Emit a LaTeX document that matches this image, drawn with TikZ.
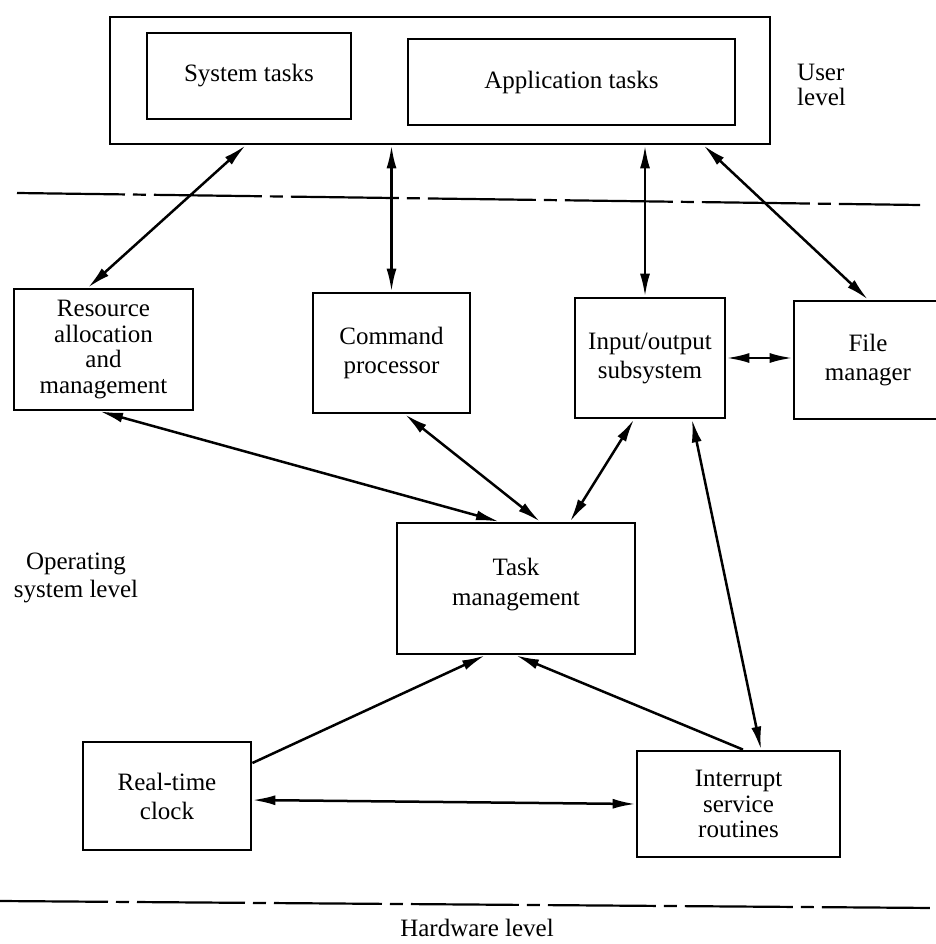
\documentclass[tikz,border=0pt]{standalone}
\usepackage{fontspec}
\setmainfont{Liberation Serif}
\usetikzlibrary{arrows.meta,calc}
\begin{document}
\begin{tikzpicture}[x=1pt,y=-1pt,
  box/.style={draw,line width=2.8pt,rectangle,inner sep=0pt,align=center,
    font=\fontsize{25}{29}\selectfont},
  tight/.style={font=\fontsize{25}{25.6}\selectfont},
  link/.style={line width=2.5pt,
    {Latex[length=23pt,width=10pt]}-{Latex[length=23pt,width=10pt]}},
  oneway/.style={line width=2.5pt,-{Latex[length=23pt,width=10pt]}},
  levelline/.style={line width=2.2pt,dash pattern=on 108pt off 8pt on 13pt off 8pt},
  caption/.style={inner sep=0pt,font=\fontsize{25}{27}\selectfont}]
\useasboundingbox (0,0) rectangle (935,944);
\fill[white] (0,0) rectangle (935,944);

% user level
\node[box,minimum width=660pt,minimum height=127pt] (outer) at (440,80.5) {};
\node[box,minimum width=204pt,minimum height=86pt] (sys) at (249,76) {System tasks};
\node[box,minimum width=327pt,minimum height=86pt] (app) at (571.5,82) {Application tasks};
\node[caption,anchor=west,align=left,font=\fontsize{25}{25}\selectfont] (user) at (797,84.5) {User\\level};

% level separators
\draw[levelline] (17,193) -- (920,205);
\draw[levelline] (0,901) -- (935,908);

% operating system level
\node[box,tight,minimum width=179pt,minimum height=121pt] (res) at (103.5,349.5)
  {Resource\\allocation\\and\\management};
\node[box,minimum width=157pt,minimum height=120pt] (cmd) at (391.5,353) {Command\\processor};
\node[box,minimum width=150pt,minimum height=120pt] (io) at (650,358) {Input/output\\subsystem};
\node[box,minimum width=148pt,minimum height=118pt] (fm) at (868,360) {File\\manager};
\node[box,minimum width=238pt,minimum height=131pt] (task) at (516,588.5) {};
\node[align=center,inner sep=0pt,font=\fontsize{25}{30}\selectfont] (tasktext) at (516,585)
  {Task\\management};
\node[box,minimum width=168pt,minimum height=108pt] (rtc) at (167,796) {Real-time\\clock};
\node[box,tight,minimum width=203pt,minimum height=106pt] (isr) at (738.5,804)
  {Interrupt\\service\\routines};

\node[caption,align=center,font=\fontsize{25}{28}\selectfont] (os) at (76,578) {Operating\\system level};
\node[caption] (hw) at (477,928) {Hardware level};

% connectors
\coordinate (iotop) at ([xshift=-5pt]io.north);
\draw[link] ([xshift=137pt]outer.south west) -- ([xshift=-15.5pt]res.north);
\draw[link] (cmd.north |- outer.south) -- (cmd.north);
\draw[link] (iotop |- outer.south) -- (iotop);
\draw[link] ([xshift=595pt]outer.south west) -- (fm.north);
\draw[link] (io.east) -- (io.east -| fm.west);
\draw[link] ([xshift=-3.5pt]res.south) -- ([xshift=-17pt]task.north);
\draw[link] ([xshift=13.5pt]cmd.south) -- ([xshift=24pt]task.north);
\draw[link] ([xshift=-16pt]io.south) -- ([xshift=54pt]task.north);
\draw[link] ([xshift=42pt]io.south) -- ([xshift=22.5pt]isr.north);
\draw[oneway] ([yshift=33pt]rtc.east) -- ([xshift=-31pt]task.south);
\draw[oneway] ([xshift=4.5pt]isr.north) -- (task.south);
\draw[link] ([yshift=-4pt]rtc.east) -- (isr.west);
\end{tikzpicture}
\end{document}
